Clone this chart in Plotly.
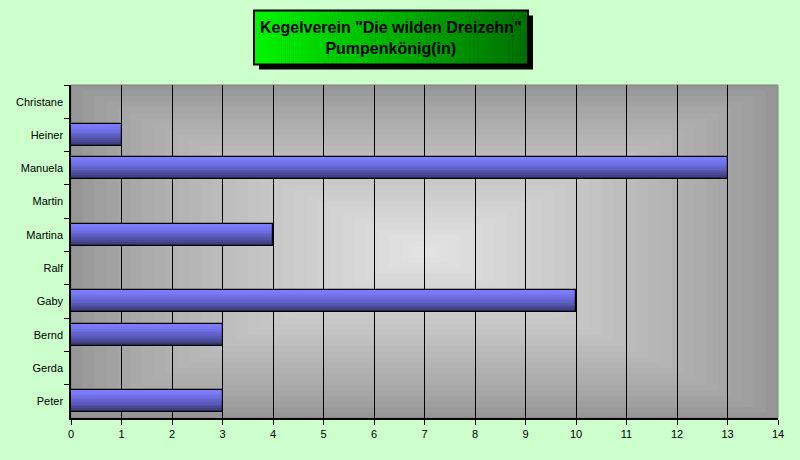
import plotly.graph_objects as go

# Daten
namen = ["Christane", "Heiner", "Manuela", "Martin", "Martina",
         "Ralf", "Gaby", "Bernd", "Gerda", "Peter"]
werte = [0, 1, 13, 0, 4, 0, 10, 3, 0, 3]
x_ticks = list(range(0, 15))

titel = 'Kegelverein "Die wilden Dreizehn"<br>Pumpenkönig(in)'

FONT = "Liberation Sans, Arial, sans-serif"
BAR_W = 0.66


def mix(c1, c2, t):
    return "rgb(%d,%d,%d)" % tuple(round(a + (b - a) * t) for a, b in zip(c1, c2))


fig = go.Figure()

# Balken mit Farbverlauf (hell oben, dunkel unten) als Streifen
n_bands = 12
band_w = BAR_W / n_bands
for k in range(n_bands):
    t = (k / (n_bands - 1)) ** 1.4
    fig.add_trace(go.Bar(
        x=werte, y=namen, orientation="h",
        width=band_w, offset=-BAR_W / 2 + k * band_w,
        marker=dict(color=mix((124, 124, 255), (56, 56, 116), t),
                    line=dict(width=0)),
        showlegend=False, hoverinfo="skip",
    ))

# Umriss der Balken
fig.add_trace(go.Bar(
    x=werte, y=namen, orientation="h", width=BAR_W,
    marker=dict(color="rgba(0,0,0,0)", line=dict(color="black", width=1.2)),
    showlegend=False,
))

shapes = []

# Hintergrund der Zeichenfläche: rechteckiger Verlauf zur Mitte hin heller
steps = 30
for i in range(steps):
    t = i / steps
    h = 0.5 * (1 - t)
    shapes.append(dict(type="rect", xref="paper", yref="paper",
                       x0=0.5 - h, x1=0.5 + h, y0=0.5 - h, y1=0.5 + h,
                       fillcolor=mix((150, 150, 150), (228, 228, 228), t ** 0.8),
                       line=dict(width=0), layer="below"))
shapes.append(dict(type="rect", xref="paper", yref="paper", x0=0, x1=1, y0=0, y1=1,
                   line=dict(color="#808080", width=1), layer="below"))

# Titelbox mit Schatten und grünem Verlauf
bx, by = 0.4526, 1.1426
shapes.append(dict(type="rect", xref="paper", yref="paper",
                   xsizemode="pixel", ysizemode="pixel", xanchor=bx, yanchor=by,
                   x0=-132, x1=142, y0=-32, y1=22,
                   fillcolor="black", line=dict(width=0), layer="above"))
strips = 70
for i in range(strips):
    shapes.append(dict(type="rect", xref="paper", yref="paper",
                       xsizemode="pixel", ysizemode="pixel", xanchor=bx, yanchor=by,
                       x0=-137 + i * 274 / strips, x1=-137 + (i + 1) * 274 / strips + 0.5,
                       y0=-27, y1=27,
                       fillcolor=mix((0, 245, 0), (0, 112, 0), i / (strips - 1)),
                       line=dict(width=0), layer="above"))
shapes.append(dict(type="rect", xref="paper", yref="paper",
                   xsizemode="pixel", ysizemode="pixel", xanchor=bx, yanchor=by,
                   x0=-137, x1=137, y0=-27, y1=27,
                   fillcolor="rgba(0,0,0,0)", line=dict(color="black", width=2),
                   layer="above"))

fig.update_layout(
    width=800, height=460,
    paper_bgcolor="#CCFFCC", plot_bgcolor="#969696",
    margin=dict(l=71, r=22, t=85, b=42, autoexpand=False),
    font=dict(family=FONT, size=11, color="black"),
    barmode="overlay", bargap=0,
    shapes=shapes,
    annotations=[dict(text="<b>" + titel.replace("<br>", "</b><br><b>") + "</b>",
                      xref="paper", yref="paper", x=bx, y=by,
                      xanchor="center", yanchor="middle", showarrow=False,
                      font=dict(family=FONT, size=16, color="black"))],
)

fig.update_xaxes(range=[0, 14], tickvals=x_ticks, ticks="outside", ticklen=5,
                 tickcolor="black", showline=True, linecolor="black", linewidth=1.5,
                 showgrid=True, gridcolor="black", gridwidth=1, zeroline=False,
                 fixedrange=True, automargin=False)
fig.update_yaxes(categoryorder="array", categoryarray=namen, autorange="reversed",
                 ticks="outside", tickson="boundaries", ticklen=5, tickcolor="black",
                 ticklabelstandoff=4,
                 showline=True, linecolor="black", linewidth=1.5, showgrid=False,
                 zeroline=False, fixedrange=True, automargin=False)

# Seitenrand des Browsers entfernen, damit die Grafik bei (0,0) beginnt
fig.write_html("out.html", config={"displayModeBar": False},
               post_script="document.body.style.margin='0';"
                           "document.body.style.background='#CCFFCC';")
